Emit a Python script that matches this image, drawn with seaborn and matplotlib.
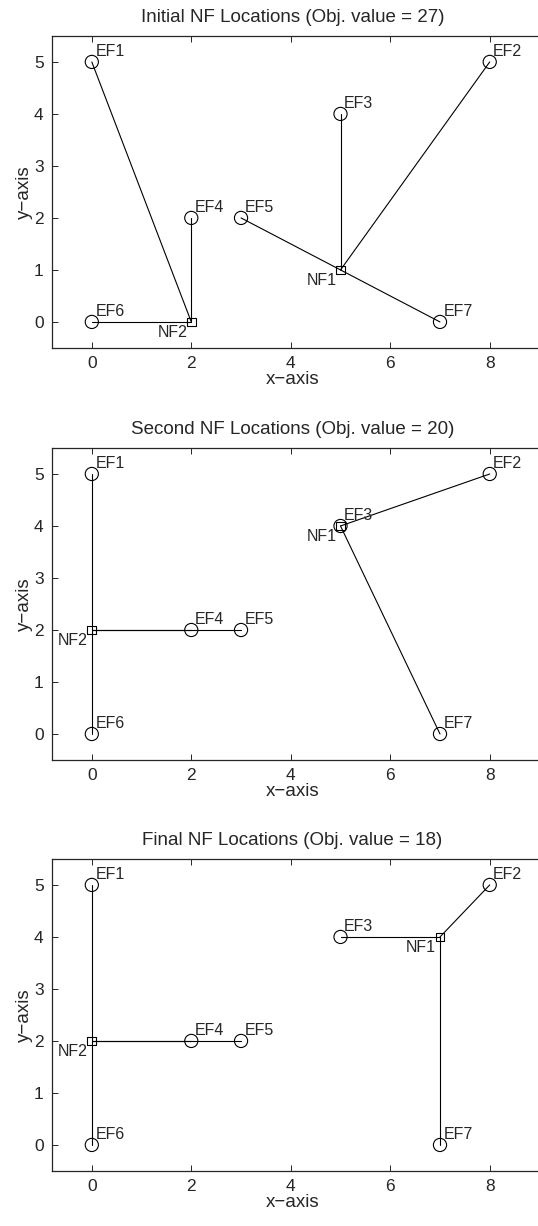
import matplotlib
matplotlib.use("Agg")
import matplotlib.pyplot as plt
import seaborn as sns
import pandas as pd

# existing facilities (fixed)
ef_names = ["EF1", "EF2", "EF3", "EF4", "EF5", "EF6", "EF7"]
ef_x = [0, 8, 5, 2, 3, 0, 7]
ef_y = [5, 5, 4, 2, 2, 0, 0]

# new facility positions per stage
titles = ["Initial NF Locations (Obj. value = 27)",
          "Second NF Locations (Obj. value = 20)",
          "Final NF Locations (Obj. value = 18)"]
nf_names = ["NF1", "NF2"]
nf_x = [[5, 2], [5, 0], [7, 0]]
nf_y = [[1, 0], [4, 2], [4, 2]]
# which NF each EF is assigned to (0 -> NF1, 1 -> NF2)
assign = [[1, 0, 0, 1, 0, 1, 0],
          [1, 0, 0, 1, 1, 1, 0],
          [1, 0, 0, 1, 1, 1, 0]]

sns.set_style("ticks")
plt.rcParams["font.family"] = ["Liberation Sans", "DejaVu Sans"]

fig = plt.figure(figsize=(5.38, 12.26), dpi=100)
bottoms = [0.7162, 0.3801, 0.0449]

for k in range(3):
    ax = fig.add_axes([0.0967, bottoms[k], 0.98, 0.2545])
    ef = pd.DataFrame({"x": ef_x, "y": ef_y, "name": ef_names})
    nf = pd.DataFrame({"x": nf_x[k], "y": nf_y[k], "name": nf_names})

    for i in range(len(ef_names)):
        j = assign[k][i]
        ax.plot([ef_x[i], nf_x[k][j]], [ef_y[i], nf_y[k][j]],
                color="black", lw=0.8, zorder=1)

    sns.scatterplot(data=ef, x="x", y="y", ax=ax, marker="o", s=90,
                    facecolor="none", edgecolor="black", linewidth=0.8,
                    zorder=2)
    sns.scatterplot(data=nf, x="x", y="y", ax=ax, marker="s", s=40,
                    facecolor="none", edgecolor="black", linewidth=0.8,
                    zorder=2)

    for i, n in enumerate(ef_names):
        ax.text(ef_x[i] + 0.07, ef_y[i] + 0.06, n, fontsize=11.5,
                ha="left", va="bottom")
    for j, n in enumerate(nf_names):
        ax.text(nf_x[k][j] - 0.08, nf_y[k][j] - 0.05, n, fontsize=11.5,
                ha="right", va="top")

    ax.set_xlim(-0.8, 9.8)
    ax.set_ylim(-0.5, 5.5)
    ax.set_xticks([0, 2, 4, 6, 8])
    ax.set_yticks([0, 1, 2, 3, 4, 5])
    ax.tick_params(direction="in", top=True, right=True, labelsize=12.5,
                   length=4, width=0.7, pad=6)
    for s in ax.spines.values():
        s.set_linewidth(0.9)
    ax.set_xlabel("x\u2212axis", fontsize=13.5, labelpad=0, x=0.456)
    ax.set_ylabel("y\u2212axis", fontsize=13.5, labelpad=1)
    ax.set_title(titles[k], fontsize=13.5, pad=10, x=0.456)

fig.savefig("out.png", dpi=100)
